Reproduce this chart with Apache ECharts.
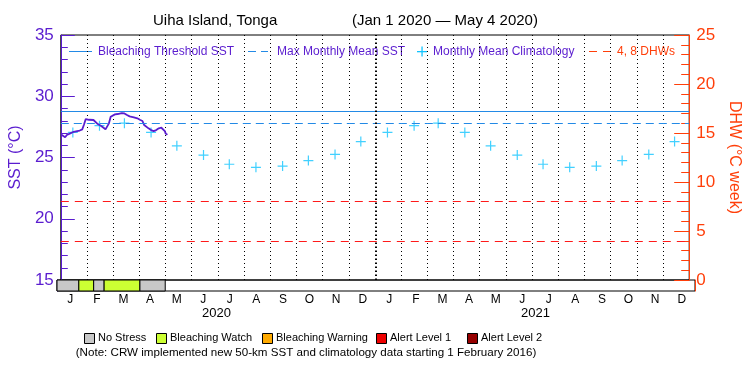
<!DOCTYPE html>
<html>
<head>
<meta charset="utf-8">
<script src="https://cdn.jsdelivr.net/npm/echarts@6/dist/echarts.min.js"></script>
<style>
html,body{margin:0;padding:0;background:#fff;}
#chart{width:750px;height:375px;}
</style>
</head>
<body>
<div id="chart"></div>
<script>
// ---------------- DATA ----------------
const titleText = 'Uiha Island, Tonga';
const periodText = '(Jan 1 2020 \u2014 May 4 2020)';
const monthLabels = ['J','F','M','A','M','J','J','A','S','O','N','D','J','F','M','A','M','J','J','A','S','O','N','D'];
const yearLabels = ['2020', '2021'];
const sstTicks = [15, 20, 25, 30, 35];
const dhwTicks = [0, 5, 10, 15, 20, 25];

const sstDates = ['2020-01-01','2020-01-03','2020-01-06','2020-01-08','2020-01-12','2020-01-16','2020-01-20','2020-01-23','2020-01-26','2020-01-28','2020-01-30','2020-02-01','2020-02-03','2020-02-05','2020-02-08','2020-02-10','2020-02-13','2020-02-17','2020-02-19','2020-02-22','2020-02-24','2020-02-26','2020-02-28','2020-03-01','2020-03-04','2020-03-07','2020-03-09','2020-03-12','2020-03-15','2020-03-18','2020-03-21','2020-03-23','2020-03-26','2020-03-30','2020-04-02','2020-04-05','2020-04-07','2020-04-09','2020-04-12','2020-04-15','2020-04-18','2020-04-21','2020-04-24','2020-04-27','2020-04-29','2020-05-01','2020-05-02','2020-05-03','2020-05-04'];
const sstValues = [26.89,26.76,26.65,26.84,26.97,27.10,27.16,27.20,27.30,27.70,28.14,28.25,28.08,28.14,28.06,27.92,27.73,27.57,27.43,27.30,27.24,27.79,28.33,28.47,28.52,28.55,28.57,28.63,28.60,28.47,28.36,28.33,28.28,28.20,28.08,27.98,27.65,27.52,27.38,27.24,27.16,27.24,27.38,27.43,27.43,27.16,26.95,26.89,26.85];

const climDates = ['2020-01-15','2020-02-15','2020-03-15','2020-04-15','2020-05-15','2020-06-15','2020-07-15','2020-08-15','2020-09-15','2020-10-15','2020-11-15','2020-12-15','2021-01-15','2021-02-15','2021-03-15','2021-04-15','2021-05-15','2021-06-15','2021-07-15','2021-08-15','2021-09-15','2021-10-15','2021-11-15','2021-12-15'];
const climValues = [27.05,27.60,27.80,27.05,25.95,25.20,24.45,24.20,24.30,24.75,25.25,26.30,27.05,27.60,27.80,27.05,25.95,25.20,24.45,24.20,24.30,24.75,25.25,26.30];

const thresholdSST = 28.8;
const mmmSST = 27.8;
const dhwLevels = [4, 8];
const yearBoundary = '2021-01-01';
const axisStart = '2020-01-01';
const axisEnd = '2022-01-01';

const stressStart = ['2020-01-01','2020-01-26','2020-02-12','2020-02-24','2020-04-05'];
const stressEnd   = ['2020-01-26','2020-02-12','2020-02-24','2020-04-05','2020-05-04'];
const stressLevel = [0, 1, 0, 1, 0];
const stressNames = ['No Stress','Bleaching Watch','Bleaching Warning','Alert Level 1','Alert Level 2'];
const legendNames = ['Bleaching Threshold SST','Max Monthly Mean SST','Monthly Mean Climatology','4, 8 DHWs'];
const noteText = '(Note: CRW implemented new 50-km SST and climatology data starting 1 February 2016)';

// ---------------- STYLE ----------------
const PURPLE = '#5a1ccf';
const ORANGE = '#ff3f0a';
const BLUE = '#238ae6';
const CYAN = '#12c4ff';
const RED = '#ff1a1a';
const stressColors = ['#c8c8c8','#ccff33','#ffaa00','#ee0000','#960000'];
const FONT = '"Liberation Sans", Arial, sans-serif';

function t(s){ const p = s.split('-').map(Number); return new Date(p[0], p[1]-1, p[2]).getTime(); }

const sstData = sstDates.map((d,i)=>[t(d), sstValues[i]]);
const climData = climDates.map((d,i)=>[t(d), climValues[i]]);
const stressData = stressStart.map((s,i)=>[t(s), t(stressEnd[i]), stressLevel[i]]);

const crossPath = 'path://M4.4,0h1.2v4.4h4.4v1.2h-4.4v4.4h-1.2v-4.4h-4.4v-1.2h4.4z';

const chart = echarts.init(document.getElementById('chart'), null, {renderer:'canvas'});

const graphic = [
  {type:'text', x:153, y:13, style:{text:titleText, font:'15px '+FONT, fill:'#000'}},
  {type:'text', x:352, y:13, style:{text:periodText, font:'15px '+FONT, fill:'#000'}},
  // top legend
  {type:'line', shape:{x1:69,y1:51.5,x2:92,y2:51.5}, style:{stroke:BLUE, lineWidth:1}},
  {type:'text', x:98, y:45.5, style:{text:legendNames[0], font:'12px '+FONT, fill:PURPLE}},
  {type:'line', shape:{x1:248,y1:51.5,x2:268,y2:51.5}, style:{stroke:BLUE, lineWidth:1, lineDash:[8,5]}},
  {type:'text', x:277, y:45.5, style:{text:legendNames[1], font:'12px '+FONT, fill:PURPLE}},
  {type:'rect', shape:{x:417, y:51, width:10, height:1.3}, style:{fill:CYAN}},
  {type:'rect', shape:{x:421.4, y:46.5, width:1.3, height:10}, style:{fill:CYAN}},
  {type:'text', x:433, y:45.5, style:{text:legendNames[2], font:'12px '+FONT, fill:PURPLE}},
  {type:'line', shape:{x1:589,y1:51.5,x2:612,y2:51.5}, style:{stroke:ORANGE, lineWidth:1, lineDash:[8,6]}},
  {type:'text', x:617, y:45.5, style:{text:legendNames[3], font:'12px '+FONT, fill:ORANGE}},
  // note
  {type:'text', x:306, y:347, style:{text:noteText, font:'11.6px '+FONT, fill:'#000', align:'center'}}
];
const legX = [84, 156, 262, 376, 467];
stressNames.forEach((n,i)=>{
  graphic.push({type:'rect', shape:{x:legX[i]+0.5, y:333.5, width:10, height:10}, style:{fill:stressColors[i], stroke:'#000', lineWidth:1}});
  graphic.push({type:'text', x:legX[i]+14, y:332, style:{text:n, font:'11px '+FONT, fill:'#000'}});
});

const option = {
  animation:false,
  backgroundColor:'#fff',
  textStyle:{fontFamily:FONT},
  grid:[
    {left:57, right:55, top:35, height:245, show:true, borderColor:'#000', borderWidth:1, containLabel:false},
    {left:57, right:55, top:280, height:11, show:true, borderColor:'#000', borderWidth:1, containLabel:false}
  ],
  xAxis:[
    {type:'time', gridIndex:0, min:t(axisStart), max:t(axisEnd), show:false},
    {type:'category', gridIndex:0, data:monthLabels, boundaryGap:true,
     axisLine:{show:false}, axisTick:{show:false}, axisLabel:{show:false},
     splitLine:{show:true, interval:0, lineStyle:{color:'#000', type:[1,3], width:1}}},
    {type:'time', gridIndex:1, min:t(axisStart), max:t(axisEnd), show:false},
    {type:'category', gridIndex:1, data:monthLabels, boundaryGap:true, position:'bottom',
     axisLine:{show:false}, axisTick:{show:false}, splitLine:{show:false},
     axisLabel:{show:true, interval:0, margin:3, color:'#000', fontSize:12, fontFamily:FONT}},
    {type:'category', gridIndex:1, data:yearLabels, boundaryGap:true, position:'bottom', offset:13,
     axisLine:{show:false}, axisTick:{show:false}, splitLine:{show:false},
     axisLabel:{show:true, interval:0, margin:3, color:'#000', fontSize:13, fontFamily:FONT}}
  ],
  yAxis:[
    {type:'value', gridIndex:0, position:'left', min:sstTicks[0], max:sstTicks[sstTicks.length-1], interval:5,
     name:'SST (\u00b0C)', nameLocation:'middle', nameGap:29,
     nameTextStyle:{color:PURPLE, fontSize:16, fontFamily:FONT},
     axisLine:{show:true, lineStyle:{color:PURPLE, width:1}},
     axisTick:{show:true, inside:true, length:14, lineStyle:{color:PURPLE}},
     minorTick:{show:true, splitNumber:5, length:7, lineStyle:{color:PURPLE}},
     axisLabel:{color:PURPLE, fontSize:17, margin:7, fontFamily:FONT},
     splitLine:{show:false}},
    {type:'value', gridIndex:0, position:'right', min:dhwTicks[0], max:dhwTicks[dhwTicks.length-1], interval:5,
     name:'DHW (\u00b0C week)', nameLocation:'middle', nameGap:26, nameRotate:-90,
     nameTextStyle:{color:ORANGE, fontSize:16, fontFamily:FONT},
     axisLine:{show:true, lineStyle:{color:ORANGE, width:1}},
     axisTick:{show:true, inside:true, length:15, lineStyle:{color:ORANGE}},
     minorTick:{show:true, splitNumber:5, length:8, lineStyle:{color:ORANGE}},
     axisLabel:{color:ORANGE, fontSize:17, margin:7, fontFamily:FONT},
     splitLine:{show:false}},
    {type:'value', gridIndex:1, position:'left', min:0, max:1,
     axisLine:{show:true, lineStyle:{color:PURPLE}}, axisTick:{show:false}, axisLabel:{show:false}, splitLine:{show:false}},
    {type:'value', gridIndex:1, position:'right', min:0, max:1,
     axisLine:{show:true, lineStyle:{color:ORANGE}}, axisTick:{show:false}, axisLabel:{show:false}, splitLine:{show:false}}
  ],
  graphic:graphic,
  series:[
    {type:'line', name:'Thresholds', xAxisIndex:0, yAxisIndex:0, data:[], z:2, silent:true,
     markLine:{silent:true, symbol:'none', label:{show:false}, animation:false,
       data:[
         {yAxis:thresholdSST, lineStyle:{color:BLUE, width:1, type:'solid'}},
         {yAxis:mmmSST, lineStyle:{color:BLUE, width:1, type:[8,5]}},
         {xAxis:t(yearBoundary), lineStyle:{color:'#000', width:2, type:[1.5,2.5]}}
       ]}},
    {type:'line', name:'DHW levels', xAxisIndex:0, yAxisIndex:1, data:[], z:2, silent:true,
     markLine:{silent:true, symbol:'none', label:{show:false}, animation:false,
       data:dhwLevels.map(v=>({yAxis:v, lineStyle:{color:RED, width:1, type:[8,6]}}))}},
    {type:'scatter', name:'Monthly Mean Climatology', xAxisIndex:0, yAxisIndex:0, data:climData,
     symbol:crossPath, symbolSize:10, itemStyle:{color:CYAN}, z:3, silent:true},
    {type:'line', name:'SST', xAxisIndex:0, yAxisIndex:0, data:sstData, showSymbol:false,
     lineStyle:{color:PURPLE, width:1.8}, z:4, silent:true},
    {type:'custom', name:'Stress', xAxisIndex:2, yAxisIndex:2, data:stressData,
     encode:{x:[0,1]}, silent:true,
     renderItem:function(params, api){
       const a = api.coord([api.value(0), 0]);
       const b = api.coord([api.value(1), 1]);
       return {type:'rect', shape:{x:a[0], y:b[1], width:b[0]-a[0], height:a[1]-b[1]},
         style:{fill:stressColors[api.value(2)], stroke:'#000', lineWidth:1}};
     }}
  ]
};
chart.setOption(option);
</script>
</body>
</html>
